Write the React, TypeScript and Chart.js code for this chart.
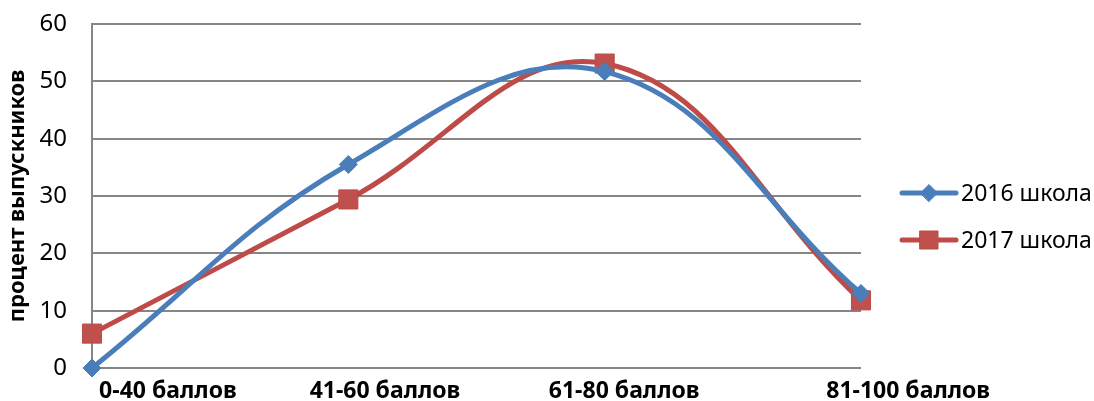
import React, { useEffect, useRef } from "react";
import { Chart, registerables } from "chart.js";

Chart.register(...registerables);

const categories = ["0-40 баллов", "41-60 баллов", "61-80 баллов", "81-100 баллов"];
const series2016 = [0, 35.5, 51.7, 13];
const series2017 = [6, 29.4, 53.1, 11.8];
const seriesLabels = ["2016 школа", "2017 школа"];
const yTitle = "процент выпускников";
const yMin = 0;
const yMax = 60;
const yStep = 10;

const BLUE = "#4A7EBB";
const RED = "#BE4B48";
const GRID = "#868686";
const FONT = "'Noto Sans', 'DejaVu Sans', sans-serif";

// where the category labels sit along the axis (in category units)
const labelPositions = [0.296, 1.143, 2.076, 3.184];

const sideLegend = {
  id: "sideLegend",
  afterDraw(chart: any) {
    const ctx = chart.ctx as CanvasRenderingContext2D;
    chart.data.datasets.forEach((ds: any, i: number) => {
      const y = 193 + i * 47;
      const x0 = 902;
      const x1 = 956;
      const xm = 929;
      ctx.save();
      ctx.strokeStyle = ds.borderColor;
      ctx.lineWidth = 5;
      ctx.lineCap = "round";
      ctx.beginPath();
      ctx.moveTo(x0, y);
      ctx.lineTo(x1, y);
      ctx.stroke();
      ctx.fillStyle = ds.pointBackgroundColor;
      ctx.strokeStyle = ds.pointBorderColor;
      ctx.lineWidth = 1;
      ctx.beginPath();
      if (ds.pointStyle === "rectRot") {
        const r = 8.5;
        ctx.moveTo(xm - r, y);
        ctx.lineTo(xm, y - r);
        ctx.lineTo(xm + r, y);
        ctx.lineTo(xm, y + r);
        ctx.closePath();
      } else {
        const s = 9;
        ctx.rect(xm - s, y - s, 2 * s, 2 * s);
      }
      ctx.fill();
      ctx.stroke();
      ctx.fillStyle = "#000";
      ctx.font = `23px ${FONT}`;
      ctx.textBaseline = "middle";
      ctx.textAlign = "left";
      ctx.fillText(ds.label, 961, y + 1);
      ctx.restore();
    });
  },
};

export default function App() {
  const ref = useRef<HTMLCanvasElement | null>(null);

  useEffect(() => {
    document.body.style.margin = "0";
    if (!ref.current) return;
    const chart = new Chart(ref.current, {
      type: "line",
      data: {
        labels: categories,
        datasets: [
          {
            label: seriesLabels[0],
            data: series2016,
            borderColor: BLUE,
            backgroundColor: BLUE,
            borderWidth: 5,
            tension: 0.4,
            borderCapStyle: "round",
            borderJoinStyle: "round",
            pointStyle: "rectRot",
            pointRadius: 9,
            pointHoverRadius: 9,
            pointBackgroundColor: BLUE,
            pointBorderColor: BLUE,
            pointBorderWidth: 1,
            clip: false as any,
          },
          {
            label: seriesLabels[1],
            data: series2017,
            borderColor: RED,
            backgroundColor: RED,
            borderWidth: 5,
            tension: 0.4,
            borderCapStyle: "round",
            borderJoinStyle: "round",
            pointStyle: "rect",
            pointRadius: 13.5,
            pointHoverRadius: 13.5,
            pointBackgroundColor: "#C0504D",
            pointBorderColor: RED,
            pointBorderWidth: 1,
            clip: false as any,
          },
        ],
      },
      options: {
        responsive: false,
        animation: false,
        events: [],
        layout: { padding: { left: 0, right: 233, top: 24, bottom: 0 } },
        plugins: {
          legend: { display: false },
          tooltip: { enabled: false },
        },
        scales: {
          x: {
            type: "category",
            display: false,
            offset: false,
          },
          xl: {
            type: "linear",
            position: "bottom",
            min: 0,
            max: categories.length - 1,
            grid: { display: false, drawTicks: false },
            border: { display: false },
            afterBuildTicks: (axis: any) => {
              axis.ticks = labelPositions.map((v) => ({ value: v }));
            },
            afterFit: (axis: any) => {
              axis.height = 33;
              axis.paddingLeft = 0;
              axis.paddingRight = 0;
            },
            ticks: {
              autoSkip: false,
              maxRotation: 0,
              minRotation: 0,
              padding: 10,
              color: "#000",
              font: { family: FONT, size: 23, weight: "bold" },
              callback: (_v: any, i: number) => categories[i],
            },
          },
          y: {
            type: "linear",
            min: yMin,
            max: yMax,
            afterFit: (axis: any) => {
              axis.width = 92;
              axis.paddingTop = 0;
              axis.paddingBottom = 0;
            },
            ticks: {
              stepSize: yStep,
              padding: 25,
              color: "#000",
              font: { family: FONT, size: 24 },
            },
            grid: { color: GRID, lineWidth: 2, drawTicks: false },
            border: { display: true, color: GRID, width: 2 },
            title: {
              display: true,
              text: yTitle,
              color: "#000",
              font: { family: FONT, size: 22, weight: "bold" },
              padding: { top: 5, bottom: 0 },
            },
          },
        },
      } as any,
      plugins: [sideLegend],
    });
    return () => chart.destroy();
  }, []);

  return (
    <div style={{ position: "fixed", left: 0, top: 0, width: 1094, height: 401 }}>
      <canvas ref={ref} width={1094} height={401} style={{ width: 1094, height: 401 }} />
    </div>
  );
}
